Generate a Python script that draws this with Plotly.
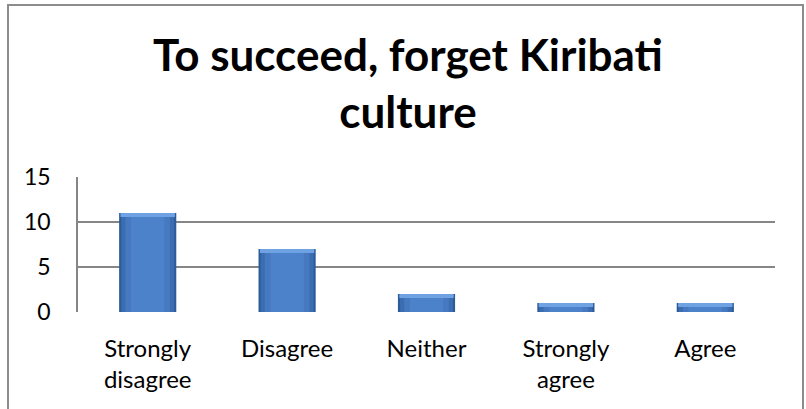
import plotly.graph_objects as go

categories = ["Strongly<br>disagree", "Disagree", "Neither", "Strongly<br>agree", "Agree"]
values = [11, 7, 2, 1, 1]
y_ticks = [0, 5, 10, 15]
title_text = "To succeed, forget Kiribati<br>culture"

W, H = 806, 409
L, R, T, B = 78, 31, 177, 97
pw, ph = W - L - R, H - T - B

def px_x(px):
    return (px - L) / pw

def px_y(py):
    return (H - B - py) / ph

bevel = 0.45

fig = go.Figure()
# layered bars to imitate the shaded, bevelled look
for w, col in [(0.41, "#2d5b99"), (0.38, "#3a6db1"), (0.32, "#4679bf"), (0.24, "#4c82c9")]:
    fig.add_trace(go.Bar(
        x=categories, y=values, width=w,
        marker=dict(color=col, line=dict(width=0)),
        hoverinfo="skip", showlegend=False,
    ))
fig.add_trace(go.Bar(
    x=categories, y=[bevel] * len(values), base=[v - bevel for v in values], width=0.39,
    marker=dict(color="#6fa2e2", line=dict(width=0)),
    hoverinfo="skip", showlegend=False,
))

fig.update_layout(
    width=W, height=H,
    margin=dict(l=L, r=R, t=T, b=B, pad=0),
    paper_bgcolor="white", plot_bgcolor="white",
    barmode="overlay",
    font=dict(family="Lato, Calibri, sans-serif", color="#000000"),
    title=dict(
        text=title_text, x=408 / W, xanchor="center",
        y=1 - 71 / H, yanchor="top", yref="container",
        font=dict(size=44, family="Lato, sans-serif", weight="bold", color="#000000"),
    ),
    xaxis=dict(
        showgrid=False, showline=False, zeroline=False,
        tickfont=dict(size=24), ticks="", ticklabelstandoff=20,
    ),
    yaxis=dict(
        range=[0, 15], tickvals=y_ticks, showgrid=True, gridcolor="#868686", gridwidth=1.5,
        showline=True, linecolor="#868686", linewidth=1.5, zeroline=False,
        tickfont=dict(size=23), ticks="", ticklabelstandoff=21,
    ),
    shapes=[dict(
        type="rect", xref="paper", yref="paper",
        x0=px_x(8), x1=px_x(803), y0=px_y(430), y1=px_y(5),
        line=dict(color="#8c8c8c", width=2), fillcolor="rgba(0,0,0,0)", layer="below",
    )],
)

fig.write_html(
    "out.html",
    config={"displayModeBar": False},
    post_script="document.body.style.margin='0';document.body.style.overflow='hidden';",
)
